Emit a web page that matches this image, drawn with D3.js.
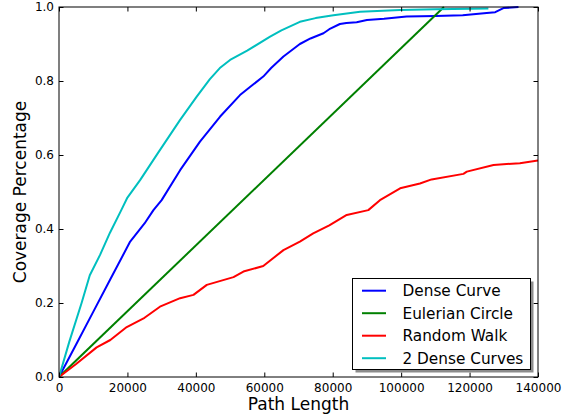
<!DOCTYPE html>
<html>
<head>
<meta charset="utf-8">
<script src="https://cdn.jsdelivr.net/npm/d3@7"></script>
<style>
    body { margin: 0; background: #fff; }
    svg { font-family: "DejaVu Sans", sans-serif; }
</style>
</head>
<body>
<div id="main"></div>
<script>
// path length (x) / coverage (y)
var denseLen = [0, 5000, 10000, 15000, 20800, 25000, 27600, 30000, 35400, 41200, 47100, 52900, 56000, 59700, 62000, 65600, 70400, 73500, 77300, 79000, 82100, 84000, 87000, 90000, 95000, 101600, 110000, 118000, 125000, 127500, 129900, 134300];
var denseCov = [0, 0.088, 0.176, 0.264, 0.366, 0.415, 0.451, 0.478, 0.559, 0.636, 0.704, 0.762, 0.785, 0.812, 0.835, 0.866, 0.9, 0.915, 0.929, 0.94, 0.954, 0.957, 0.959, 0.965, 0.968, 0.974, 0.976, 0.978, 0.984, 0.986, 0.997, 1.0];

var eulerLen = [0, 112500];
var eulerCov = [0, 1.0];

var randomLen = [0, 5000, 11000, 15000, 19800, 25000, 29500, 35400, 39300, 43200, 51000, 53900, 59700, 65600, 70400, 74300, 79000, 84100, 90400, 93800, 99700, 105500, 108900, 118200, 119200, 127000, 134700, 140000];
var randomCov = [0, 0.035, 0.08, 0.1, 0.135, 0.16, 0.19, 0.213, 0.222, 0.249, 0.27, 0.285, 0.3, 0.343, 0.366, 0.388, 0.41, 0.438, 0.451, 0.478, 0.51, 0.523, 0.534, 0.549, 0.555, 0.573, 0.578, 0.585];

var twoDenseLen = [0, 3000, 6600, 9000, 12000, 14900, 18200, 20000, 23700, 28900, 35400, 40200, 44100, 47000, 50000, 55000, 61700, 65000, 70400, 75000, 80200, 88000, 99700, 110000, 125500];
var twoDenseCov = [0, 0.095, 0.2, 0.275, 0.33, 0.39, 0.451, 0.485, 0.532, 0.605, 0.695, 0.757, 0.805, 0.835, 0.857, 0.882, 0.92, 0.937, 0.96, 0.97, 0.978, 0.987, 0.992, 0.994, 0.996];

var seriesNames = ["Dense Curve", "Eulerian Circle", "Random Walk", "2 Dense Curves"];
var seriesColors = ["#0000ff", "#008000", "#ff0000", "#00bfbf"];

var xTicks = [0, 20000, 40000, 60000, 80000, 100000, 120000, 140000];
var yTicks = [0, 0.2, 0.4, 0.6, 0.8, 1.0];

var ctx = {
    w: 575,
    h: 417,
    left: 59,
    right: 538,
    top: 7,
    bottom: 377,
};

var createViz = function () {
    var svg = d3.select("#main").append("svg")
        .attr("width", ctx.w)
        .attr("height", ctx.h);

    var x = d3.scaleLinear().domain([0, 140000]).range([ctx.left, ctx.right]);
    var y = d3.scaleLinear().domain([0, 1]).range([ctx.bottom, ctx.top]);

    var zip = function (xs, ys) {
        return xs.map(function (v, i) { return [v, ys[i]]; });
    };
    var series = [
        zip(denseLen, denseCov),
        zip(eulerLen, eulerCov),
        zip(randomLen, randomCov),
        zip(twoDenseLen, twoDenseCov),
    ];

    svg.append("defs").append("clipPath").attr("id", "clip")
        .append("rect")
        .attr("x", ctx.left).attr("y", ctx.top - 1)
        .attr("width", ctx.right - ctx.left).attr("height", ctx.bottom - ctx.top + 1);

    var line = d3.line()
        .x(function (d) { return x(d[0]); })
        .y(function (d) { return y(d[1]); });

    svg.append("g").attr("clip-path", "url(#clip)")
        .selectAll("path")
        .data(series)
        .enter()
        .append("path")
        .attr("d", line)
        .attr("fill", "none")
        .attr("stroke", function (d, i) { return seriesColors[i]; })
        .attr("stroke-width", 2)
        .attr("stroke-linejoin", "round");

    // axes, matplotlib style: ticks inside on all four sides
    var fmtX = d3.format("d");
    var fmtY = d3.format(".1f");
    var tk = 4.5;

    var bottomAxis = d3.axisBottom(x).tickValues(xTicks).tickFormat(fmtX).tickSizeInner(-tk).tickSizeOuter(0).tickPadding(6);
    var topAxis = d3.axisTop(x).tickValues(xTicks).tickFormat("").tickSizeInner(-tk).tickSizeOuter(0);
    var leftAxis = d3.axisLeft(y).tickValues(yTicks).tickFormat(fmtY).tickSizeInner(-tk).tickSizeOuter(0).tickPadding(5);
    var rightAxis = d3.axisRight(y).tickValues(yTicks).tickFormat("").tickSizeInner(-tk).tickSizeOuter(0);

    var axes = [
        svg.append("g").attr("transform", "translate(0," + ctx.bottom + ")").call(bottomAxis),
        svg.append("g").attr("transform", "translate(0," + ctx.top + ")").call(topAxis),
        svg.append("g").attr("transform", "translate(" + ctx.left + ",0)").call(leftAxis),
        svg.append("g").attr("transform", "translate(" + ctx.right + ",0)").call(rightAxis),
    ];
    axes.forEach(function (g) {
        g.select(".domain").remove();
        g.selectAll("line").attr("stroke", "#000").attr("stroke-width", 1);
        g.selectAll("text").attr("font-family", "DejaVu Sans").attr("font-size", 12).attr("fill", "#000");
    });

    svg.append("rect")
        .attr("x", ctx.left).attr("y", ctx.top)
        .attr("width", ctx.right - ctx.left).attr("height", ctx.bottom - ctx.top)
        .attr("fill", "none").attr("stroke", "#000").attr("stroke-width", 1);

    svg.append("text")
        .attr("x", (ctx.left + ctx.right) / 2)
        .attr("y", 410)
        .attr("text-anchor", "middle")
        .attr("font-size", 17)
        .text("Path Length");

    svg.append("text")
        .attr("transform", "translate(26," + 192 + ") rotate(-90)")
        .attr("text-anchor", "middle")
        .attr("font-size", 17)
        .text("Coverage Percentage");

    // legend
    var lg = svg.append("g");
    lg.append("rect")
        .attr("x", 355.5).attr("y", 281.5)
        .attr("width", 178).attr("height", 91)
        .attr("fill", "#8c8c8c");
    lg.append("rect")
        .attr("x", 352.5).attr("y", 278.5)
        .attr("width", 178).attr("height", 91)
        .attr("fill", "#fff").attr("stroke", "#000").attr("stroke-width", 1);

    var rows = lg.selectAll("g.row")
        .data(seriesNames)
        .enter()
        .append("g")
        .attr("class", "row")
        .attr("transform", function (d, i) { return "translate(0," + (290.7 + i * 22.5) + ")"; });
    rows.append("line")
        .attr("x1", 362).attr("x2", 386)
        .attr("stroke", function (d, i) { return seriesColors[i]; })
        .attr("stroke-width", 2);
    rows.append("text")
        .attr("x", 402.5).attr("y", 5.5)
        .attr("font-size", 15.3)
        .text(function (d) { return d; });
};

createViz();
</script>
</body>
</html>
